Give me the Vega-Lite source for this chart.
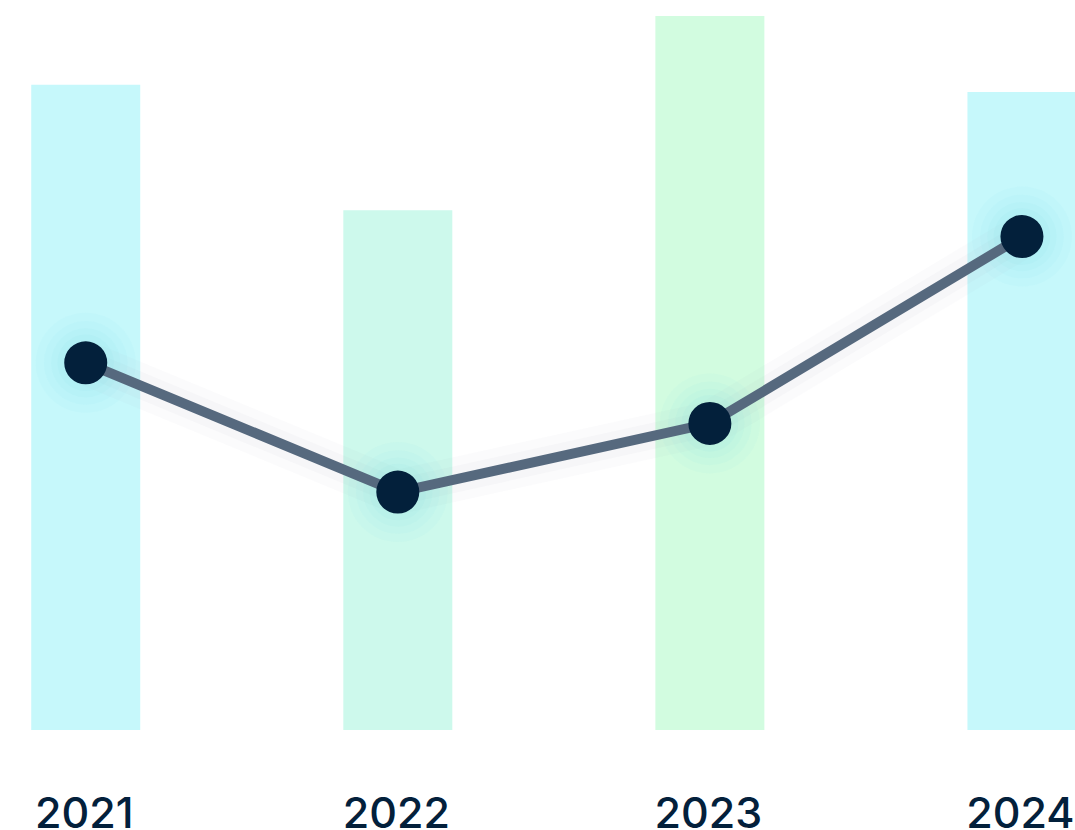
{
  "$schema": "https://vega.github.io/schema/vega-lite/v6.json",
  "width": 1075,
  "height": 730,
  "padding": {"left": 0, "top": 0, "right": 0, "bottom": 100},
  "autosize": {"type": "none"},
  "background": "white",
  "config": {"view": {"stroke": null}},
  "data": {
    "values": [
      {"year": 2021, "bar": 88.4, "line": 50.3, "tone": "cyan"},
      {"year": 2022, "bar": 71.2, "line": 32.6, "tone": "mint"},
      {"year": 2023, "bar": 97.8, "line": 42.0, "tone": "green"},
      {"year": 2024, "bar": 87.4, "line": 67.6, "tone": "cyan2"}
    ]
  },
  "encoding": {
    "x": {
      "field": "year",
      "type": "quantitative",
      "scale": {"domain": [2020.7413, 2024.154], "nice": false, "zero": false},
      "axis": {
        "title": null,
        "values": [2021, 2022, 2023, 2024],
        "format": "d",
        "grid": false,
        "ticks": false,
        "domain": false,
        "labelFont": "Inter",
        "labelFontSize": 43,
        "labelFontWeight": 500,
        "labelColor": "#03203b",
        "labelBaseline": "alphabetic",
        "labelPadding": 97,
        "labelOffset": -2,
        "labelFlush": false,
        "labelOverlap": false
      }
    }
  },
  "layer": [
    {
      "mark": {"type": "bar", "size": 109, "clip": true},
      "encoding": {
        "y": {
          "field": "bar",
          "type": "quantitative",
          "scale": {"domain": [0, 100], "nice": false},
          "axis": null
        },
        "color": {
          "field": "tone",
          "type": "nominal",
          "scale": {
            "domain": ["cyan", "mint", "green", "cyan2"],
            "range": ["#c6f8fb", "#cdf9ec", "#d2fce0", "#c6f8fb"]
          },
          "legend": null
        }
      }
    },
    {
      "mark": {"type": "line", "color": "#9aa3ad", "strokeWidth": 44, "opacity": 0.04, "strokeJoin": "round"},
      "encoding": {"y": {"field": "line", "type": "quantitative"}}
    },
    {
      "mark": {"type": "line", "color": "#9aa3ad", "strokeWidth": 26, "opacity": 0.05, "strokeJoin": "round"},
      "encoding": {"y": {"field": "line", "type": "quantitative"}}
    },
    {
      "mark": {"type": "circle", "color": "#7fdfe8", "opacity": 0.05, "size": 10000},
      "encoding": {"y": {"field": "line", "type": "quantitative"}}
    },
    {
      "mark": {"type": "circle", "color": "#7fdfe8", "opacity": 0.06, "size": 7000},
      "encoding": {"y": {"field": "line", "type": "quantitative"}}
    },
    {
      "mark": {"type": "circle", "color": "#7fdfe8", "opacity": 0.07, "size": 4800},
      "encoding": {"y": {"field": "line", "type": "quantitative"}}
    },
    {
      "mark": {"type": "circle", "color": "#7fdfe8", "opacity": 0.08, "size": 3200},
      "encoding": {"y": {"field": "line", "type": "quantitative"}}
    },
    {
      "mark": {"type": "line", "color": "#56697e", "strokeWidth": 10},
      "encoding": {"y": {"field": "line", "type": "quantitative"}}
    },
    {
      "mark": {"type": "circle", "color": "#03203b", "opacity": 1, "size": 1850},
      "encoding": {"y": {"field": "line", "type": "quantitative"}}
    }
  ]
}
